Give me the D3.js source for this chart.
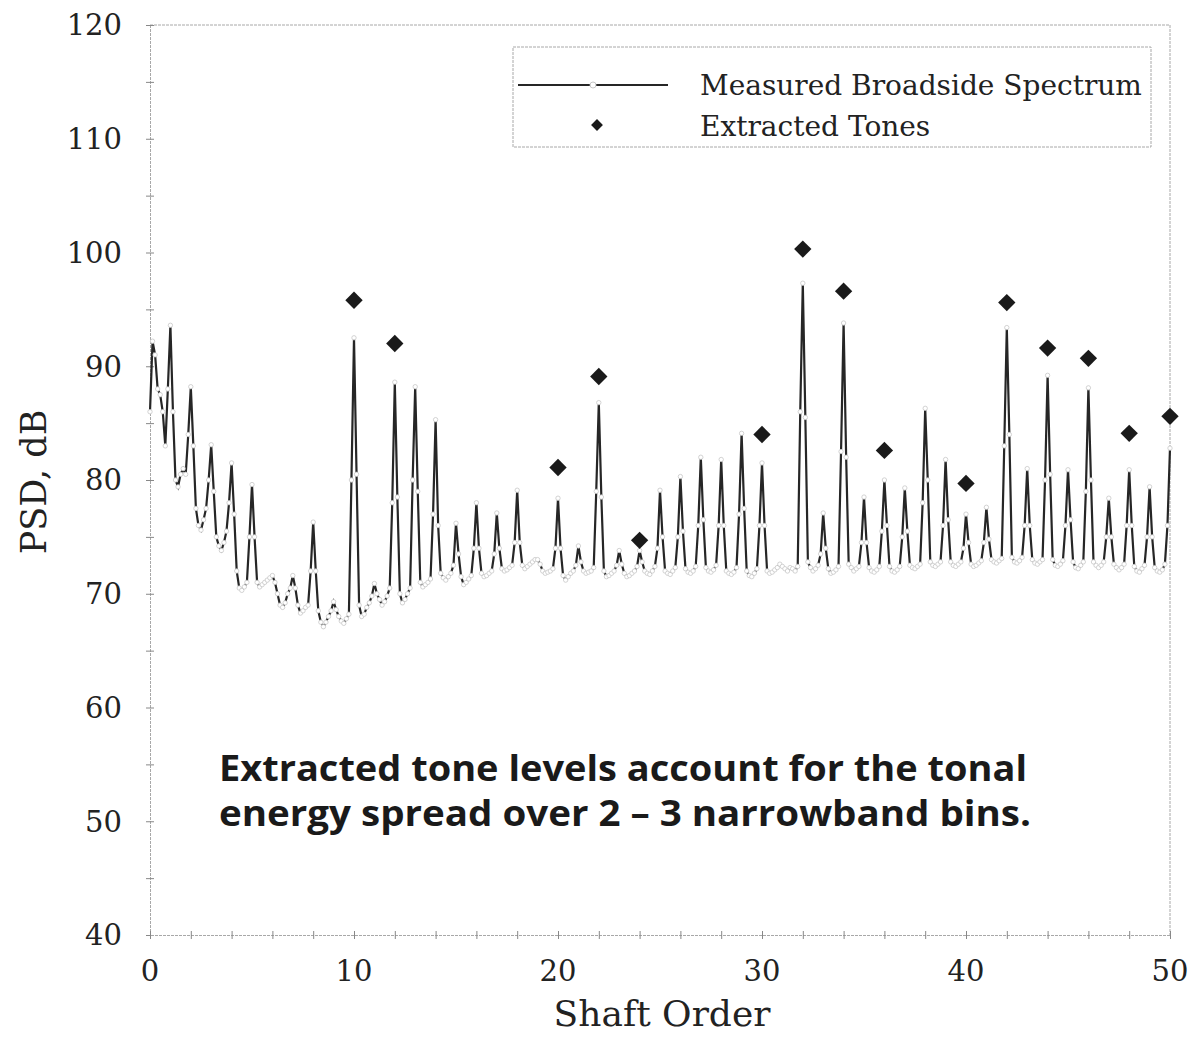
<!DOCTYPE html>
<html><head><meta charset="utf-8">
<script src="https://cdn.jsdelivr.net/npm/d3@7"></script>
<style>body{margin:0;background:#fff}svg{display:block}</style>
</head><body>
<svg id="c" width="1192" height="1037"></svg>
<script>
// ---- data ----
const binStep = 0.125; // shaft-order spacing of the narrowband bins, starting at order 0
const spectrum = [
 86.0,92.2,91.0,88.0,87.5,86.0,83.0,88.0,
 93.6,86.0,80.0,79.4,80.5,81.0,80.5,84.0,
 88.2,83.0,77.5,76.0,75.6,76.5,77.5,80.0,
 83.1,79.0,75.0,74.2,73.8,74.5,75.5,78.0,
 81.5,77.0,72.0,70.5,70.3,70.6,71.0,75.0,
 79.6,75.0,71.0,70.6,70.8,71.0,71.2,71.4,
 71.6,71.0,70.0,69.0,68.8,69.2,70.0,70.5,
 71.6,70.5,69.0,68.3,68.5,68.8,69.0,72.0,
 76.3,72.0,68.5,67.5,67.1,67.5,68.0,68.5,
 69.3,68.6,68.0,67.6,67.4,67.8,68.2,80.0,
 92.5,80.5,69.0,68.0,68.2,68.8,69.2,69.8,
 70.9,70.0,69.5,69.0,69.3,69.8,70.5,78.0,
 88.6,78.5,70.0,69.2,69.5,70.0,70.5,80.0,
 88.2,79.0,71.0,70.6,70.8,71.0,71.3,77.0,
 85.3,76.0,71.8,71.4,71.2,71.5,71.8,72.5,
 76.2,73.5,71.5,70.8,71.0,71.3,71.6,74.0,
 78.0,74.0,71.8,71.5,71.6,71.8,72.0,73.5,
 77.1,74.0,72.2,72.0,72.1,72.3,72.5,74.5,
 79.1,74.5,72.5,72.2,72.4,72.6,72.8,73.0,
 73.0,72.6,72.0,71.8,71.9,72.0,72.2,74.0,
 78.4,74.0,71.6,71.2,71.5,71.8,72.0,72.5,
 74.2,72.8,72.0,71.8,71.9,72.0,72.3,79.0,
 86.8,78.5,72.0,71.5,71.6,71.8,72.0,72.5,
 73.8,72.6,71.8,71.5,71.6,71.8,72.0,72.4,
 73.8,72.8,72.0,71.8,71.7,72.0,72.4,74.0,
 79.1,75.0,72.0,71.8,71.7,72.0,72.3,75.0,
 80.3,75.5,72.2,71.9,71.8,72.0,72.4,76.0,
 82.0,76.5,72.3,72.0,71.9,72.1,72.5,76.0,
 81.8,76.0,72.0,71.8,71.7,71.9,72.3,77.0,
 84.1,77.5,72.0,71.6,71.5,71.8,72.2,76.0,
 81.5,76.0,72.0,71.8,71.9,72.1,72.3,72.6,
 72.4,72.2,72.0,72.3,72.2,72.0,72.4,86.0,
 97.3,85.5,72.8,72.3,72.0,72.2,72.5,73.5,
 77.1,74.0,72.2,71.8,71.9,72.1,72.4,82.5,
 93.8,82.0,72.6,72.3,72.0,72.2,72.4,74.5,
 78.5,74.5,72.3,72.0,71.9,72.1,72.4,75.5,
 80.0,76.0,72.4,72.0,71.9,72.1,72.4,75.0,
 79.3,75.5,72.5,72.3,72.2,72.4,72.6,78.0,
 86.3,80.0,72.8,72.5,72.4,72.6,72.8,76.0,
 81.8,76.5,72.8,72.5,72.4,72.6,72.8,74.0,
 77.0,74.5,72.6,72.4,72.5,72.7,72.9,74.5,
 77.6,74.8,73.0,72.8,72.7,72.9,73.1,83.0,
 93.4,84.0,73.2,72.8,72.7,72.9,73.2,76.0,
 81.0,76.0,73.0,72.7,72.6,72.8,73.0,80.0,
 89.2,80.5,73.0,72.5,72.4,72.6,72.9,76.0,
 80.9,76.5,72.8,72.3,72.2,72.5,72.8,79.0,
 88.1,80.0,72.8,72.5,72.3,72.5,72.8,75.0,
 78.4,75.0,72.6,72.3,72.1,72.3,72.6,76.0,
 80.9,76.0,72.4,72.0,71.9,72.2,72.5,75.0,
 79.4,75.0,72.3,72.0,71.9,72.1,72.6,76.0,
 82.8
];
const toneOrders = [10, 12, 20, 22, 24, 30, 32, 34, 36, 40, 42, 44, 46, 48, 50];
const toneLevels = [95.8, 92.0, 81.1, 89.1, 74.7, 84.0, 100.3, 96.6, 82.6, 79.7, 95.6, 91.6, 90.7, 84.1, 85.6];
const yTicks = [40, 50, 60, 70, 80, 90, 100, 110, 120];
const xTicks = [0, 10, 20, 30, 40, 50];
const legendLabels = ["Measured Broadside Spectrum", "Extracted Tones"];
const annotation = ["Extracted tone levels account for the tonal", "energy spread over 2 \u2013 3 narrowband bins."];

// ---- layout ----
const svg = d3.select("#c");
const x = d3.scaleLinear().domain([0, 50]).range([150, 1170]);
const y = d3.scaleLinear().domain([40, 120]).range([935, 25]);
const serif = "'DejaVu Serif','Liberation Serif',serif";
const frameCol = "#a8a8a8";
const ink = "#222";

// frame
svg.append("line").attr("x1", x(0)).attr("x2", x(50)).attr("y1", y(120)).attr("y2", y(120))
  .attr("stroke", frameCol).attr("stroke-dasharray", "3,1");
svg.append("line").attr("x1", x(50)).attr("x2", x(50)).attr("y1", y(120)).attr("y2", y(40))
  .attr("stroke", frameCol).attr("stroke-dasharray", "3,1");

// y axis
const yAxis = d3.axisLeft(y).tickValues(d3.range(40, 121, 5)).tickSize(4).tickFormat("");
const gy = svg.append("g").attr("transform", `translate(${x(0)},0)`).call(yAxis);
gy.select(".domain").attr("stroke", frameCol).attr("stroke-dasharray", "3,1");
gy.selectAll(".tick line").attr("stroke", "#888").attr("x1", 4);
svg.append("g").selectAll("text").data(yTicks).join("text")
  .attr("x", 122).attr("y", d => y(d)).attr("dy", "0.36em").attr("text-anchor", "end")
  .attr("font-family", serif).attr("font-size", 29).attr("fill", ink).text(d => d);

// x axis
const xAxis = d3.axisBottom(x).tickValues(d3.range(0, 51, 2)).tickSize(4).tickFormat("");
const gx = svg.append("g").attr("transform", `translate(0,${y(40)})`).call(xAxis);
gx.select(".domain").attr("stroke", frameCol).attr("stroke-dasharray", "3,1");
gx.selectAll(".tick line").attr("stroke", "#888").attr("y1", -4);
svg.append("g").selectAll("text").data(xTicks).join("text")
  .attr("x", d => x(d)).attr("y", 981).attr("text-anchor", "middle")
  .attr("font-family", serif).attr("font-size", 29).attr("fill", ink).text(d => d);

// axis titles
svg.append("text").attr("x", 662).attr("y", 1026).attr("text-anchor", "middle")
  .attr("font-family", serif).attr("font-size", 36).attr("fill", ink).text("Shaft Order");
svg.append("text").attr("transform", "translate(46,482) rotate(-90)").attr("text-anchor", "middle")
  .attr("font-family", serif).attr("font-size", 35).attr("fill", ink).text("PSD, dB");

// spectrum
const pts = spectrum.map((v, i) => [i * binStep, v]);
svg.append("path").datum(pts)
  .attr("d", d3.line().x(d => x(d[0])).y(d => y(d[1])))
  .attr("fill", "none").attr("stroke", "#262626").attr("stroke-width", 2.2);
svg.append("g").selectAll("circle").data(pts).join("circle")
  .attr("cx", d => x(d[0])).attr("cy", d => y(d[1])).attr("r", 2.2)
  .attr("fill", "#fff").attr("stroke", "#c8c8c8").attr("stroke-width", 0.8);

// tones
const diamond = d3.symbol().type(d3.symbolSquare).size(150);
svg.append("g").selectAll("path").data(toneOrders.map((o, i) => [o, toneLevels[i]])).join("path")
  .attr("d", diamond).attr("transform", d => `translate(${x(d[0])},${y(d[1])}) rotate(45)`)
  .attr("fill", "#1a1a1a");

// legend
const lg = svg.append("g");
lg.append("rect").attr("x", 513).attr("y", 47).attr("width", 638).attr("height", 100)
  .attr("fill", "#fff").attr("stroke", frameCol).attr("stroke-dasharray", "3,1");
lg.append("line").attr("x1", 518).attr("x2", 668).attr("y1", 85).attr("y2", 85)
  .attr("stroke", "#262626").attr("stroke-width", 1.8);
lg.append("circle").attr("cx", 593).attr("cy", 85).attr("r", 3)
  .attr("fill", "#fff").attr("stroke", "#c8c8c8");
lg.append("path").attr("d", d3.symbol().type(d3.symbolSquare).size(70))
  .attr("transform", "translate(597,125) rotate(45)").attr("fill", "#1a1a1a");
lg.selectAll("text").data(legendLabels).join("text")
  .attr("x", 700).attr("y", (d, i) => 95 + i * 41)
  .attr("font-family", serif).attr("font-size", 28).attr("fill", ink).text(d => d);

// annotation
svg.append("g").selectAll("text").data(annotation).join("text")
  .attr("x", 219).attr("y", (d, i) => 781 + i * 45)
  .attr("font-family", "'Open Sans','DejaVu Sans',sans-serif").attr("font-weight", 700)
  .attr("font-size", 36).attr("fill", "#1a1a1a")
  .attr("textLength", (d, i) => i === 0 ? 808 : 812).attr("lengthAdjust", "spacingAndGlyphs")
  .text(d => d);
</script>
</body></html>
